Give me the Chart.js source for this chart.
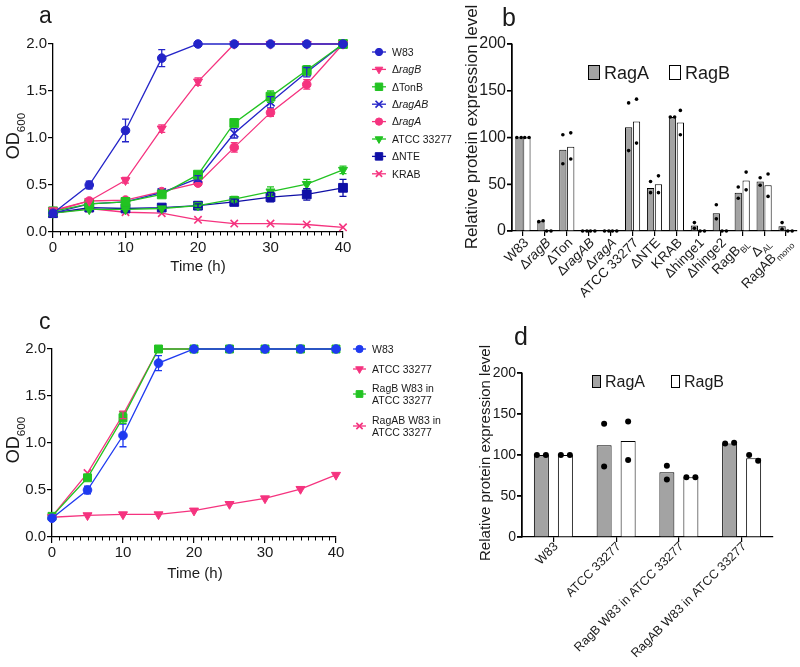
<!DOCTYPE html>
<html>
<head>
<meta charset="utf-8">
<script src="https://cdn.jsdelivr.net/npm/chart.js@4.4.1/dist/chart.umd.min.js"></script>
<style>
html, body { margin: 0; background: #fff; }
#wrap { position: relative; width: 800px; height: 667px; overflow: hidden; }
#wrap canvas { position: absolute; left: 0; top: 0; }
</style>
</head>
<body>
<div id="wrap">
  <canvas id="chartA" width="800" height="667"></canvas>
  <canvas id="chartB" width="800" height="667"></canvas>
  <canvas id="chartC" width="800" height="667"></canvas>
  <canvas id="chartD" width="800" height="667"></canvas>
</div>
<script>
const FONT = '"Liberation Sans", Arial, Helvetica, sans-serif';
const INK = "#1a1a1a";

/* ================= DATA ================= */
const hours = [0, 5, 10, 15, 20, 25, 30, 35, 40];

// panel a
const aNames = ["W83", "Δ*ragB*", "ΔTonB", "Δ*ragAB*", "Δ*ragA*", "ATCC 33277", "ΔNTE", "KRAB"];
const aW83 = [0.20, 0.50, 1.08, 1.85, 2.00, 2.00, 2.00, 2.00, 2.00];
const aRagB = [0.23, 0.33, 0.55, 1.10, 1.60, 2.00, 2.00, 2.00, 2.00];
const aTonB = [0.22, 0.30, 0.32, 0.40, 0.61, 1.16, 1.44, 1.72, 2.00];
const aRagAB = [0.20, 0.30, 0.32, 0.42, 0.57, 1.05, 1.38, 1.70, 2.00];
const aRagA = [0.22, 0.33, 0.34, 0.43, 0.52, 0.90, 1.27, 1.57, 2.00];
const aATCC = [0.20, 0.24, 0.24, 0.25, 0.28, 0.35, 0.43, 0.51, 0.66];
const aNTE = [0.20, 0.26, 0.25, 0.26, 0.28, 0.32, 0.37, 0.40, 0.47];
const aKRAB = [0.20, 0.25, 0.21, 0.20, 0.13, 0.09, 0.09, 0.08, 0.05];
const aW83Err = [0, 0.04, 0.12, 0.09, 0, 0, 0, 0, 0];
const aRagBErr = [0, 0, 0.03, 0.04, 0.04, 0, 0, 0, 0];
const aTonBErr = [0, 0, 0, 0, 0.03, 0.03, 0.06, 0.05, 0];
const aRagABErr = [0, 0, 0, 0, 0.03, 0.05, 0.06, 0.05, 0];
const aRagAErr = [0, 0, 0, 0, 0, 0.05, 0.04, 0.05, 0];
const aATCCErr = [0, 0, 0, 0, 0.03, 0.03, 0.05, 0.05, 0.04];
const aNTEErr = [0, 0, 0, 0, 0.02, 0.03, 0.05, 0.06, 0.09];
const aKRABErr = [0, 0, 0, 0, 0, 0, 0, 0, 0];

// panel c
const cNames = ["W83", "ATCC 33277", "RagB W83 in\nATCC 33277", "RagAB W83 in\nATCC 33277"];
const cW83 = [0.20, 0.50, 1.08, 1.85, 2.00, 2.00, 2.00, 2.00, 2.00];
const cATCC = [0.21, 0.23, 0.24, 0.24, 0.28, 0.35, 0.41, 0.51, 0.66];
const cRagB = [0.22, 0.63, 1.27, 2.00, 2.00, 2.00, 2.00, 2.00, 2.00];
const cRagAB = [0.22, 0.68, 1.30, 2.00, 2.00, 2.00, 2.00, 2.00, 2.00];
const cW83Err = [0, 0.04, 0.12, 0.08, 0, 0, 0, 0, 0];
const cATCCErr = [0, 0, 0, 0, 0, 0, 0, 0, 0];
const cRagBErr = [0, 0, 0.06, 0, 0, 0, 0, 0, 0];
const cRagABErr = [0, 0, 0.04, 0, 0, 0, 0, 0, 0];

// panel b
const bCats = ["W83", "Δ*ragB*", "ΔTon", "Δ*ragAB*", "Δ*ragA*", "ATCC 33277", "ΔNTE", "KRAB",
               "Δhinge1", "Δhinge2", "RagB_BL", "Δ_AL", "RagAB_mono"];
const bRagA = [100, 11, 87, 0, 0, 111, 46, 122, 6, 19, 41, 53, 5];
const bRagB = [100, 0, 90, 0, 0, 117, 50, 116, 0, 0, 54, 49, 0];
const bRagADots = [[100, 100], [10, 11], [103, 72], [0, 0], [0, 0], [137, 86], [53, 41], [122, 122],
                   [9, 3], [28, 13], [47, 35], [57, 49], [9, 2]];
const bRagBDots = [[100, 100], [0, 0], [105, 77], [0, 0], [0, 0], [141, 94], [59, 41], [129, 103],
                   [0, 0], [0, 0], [63, 44], [61, 37], [0, 0]];

// panel d
const dCats = ["W83", "ATCC 33277", "RagB W83 in ATCC 33277", "RagAB W83 in ATCC 33277"];
const dRagA = [100, 112, 79, 114];
const dRagB = [100, 117, 73, 96];
const dRagADots = [[100, 100], [138, 86], [87, 70], [114, 115]];
const dRagBDots = [[100, 100], [141, 94], [73, 73], [100, 93]];

/* ================= TEXT HELPERS ================= */
// "*x*" = italic, "_x" = subscript to the end
function parseRuns(str) {
    const runs = [];
    let italic = false, sub = false, buf = "";
    const push = () => { if (buf) runs.push({ t: buf, italic, sub }); buf = ""; };
    for (const ch of str) {
        if (ch === "*") { push(); italic = !italic; }
        else if (ch === "_") { push(); sub = true; }
        else buf += ch;
    }
    push();
    return runs;
}

function drawRuns(ctx, str, x, y, size, align, rot, subScale) {
    const runs = parseRuns(str);
    const ss = subScale || 0.65;
    const fontOf = r => (r.italic ? "italic " : "") + (r.sub ? size * ss : size) + "px " + FONT;
    let total = 0;
    runs.forEach(r => { ctx.font = fontOf(r); r.w = ctx.measureText(r.t).width; total += r.w; });
    ctx.save();
    ctx.translate(x, y);
    if (rot) ctx.rotate(rot);
    ctx.fillStyle = INK;
    ctx.textAlign = "left";
    ctx.textBaseline = "alphabetic";
    let cx = align === "right" ? -total : align === "center" ? -total / 2 : 0;
    const base = size * 0.36;
    runs.forEach(r => {
        ctx.font = fontOf(r);
        ctx.fillText(r.t, cx, base + (r.sub ? size * 0.28 : 0));
        cx += r.w;
    });
    ctx.restore();
}

/* ================= PLUGINS ================= */
const errorBars = {
    id: "errorBars",
    afterDatasetsDraw(chart) {
        const ctx = chart.ctx, ys = chart.scales.y;
        chart.data.datasets.forEach((ds, k) => {
            if (!ds.errors) return;
            const meta = chart.getDatasetMeta(k);
            ds.errors.forEach((e, i) => {
                if (!e) return;
                const pt = meta.data[i];
                const v = ds.data[i].y;
                const top = ys.getPixelForValue(v + e), bot = ys.getPixelForValue(v - e);
                ctx.save();
                ctx.strokeStyle = ds.borderColor;
                ctx.lineWidth = 1.3;
                ctx.beginPath();
                ctx.moveTo(pt.x, top); ctx.lineTo(pt.x, bot);
                ctx.moveTo(pt.x - 3.5, top); ctx.lineTo(pt.x + 3.5, top);
                ctx.moveTo(pt.x - 3.5, bot); ctx.lineTo(pt.x + 3.5, bot);
                ctx.stroke();
                ctx.restore();
            });
        });
    }
};

const minorTicks = {
    id: "minorTicks",
    afterDraw(chart, args, opts) {
        if (!opts.step) return;
        const xs = chart.scales.x, ctx = chart.ctx;
        ctx.save();
        ctx.strokeStyle = "#000";
        ctx.lineWidth = 1;
        ctx.beginPath();
        for (let v = xs.min; v <= xs.max; v += opts.step) {
            if (v % opts.major === 0) continue;
            const px = Math.round(xs.getPixelForValue(v)) + 0.5;
            ctx.moveTo(px, xs.top);
            ctx.lineTo(px, xs.top + opts.len);
        }
        ctx.stroke();
        ctx.restore();
    }
};

// left value axis line + tick marks, drawn from the y scale
const valueAxis = {
    id: "valueAxis",
    afterDraw(chart, args, opts) {
        if (!opts.len) return;
        const ys = chart.scales.y, ctx = chart.ctx;
        const x0 = chart.chartArea.left;
        ctx.save();
        ctx.strokeStyle = "#000";
        ctx.lineWidth = 1.3;
        ctx.beginPath();
        ctx.moveTo(x0, ys.getPixelForValue(ys.max));
        ctx.lineTo(x0, ys.getPixelForValue(ys.min) + 0.6);
        ys.ticks.forEach(t => {
            const py = ys.getPixelForValue(t.value);
            ctx.moveTo(x0 - opts.len, py);
            ctx.lineTo(x0, py);
        });
        ctx.stroke();
        ctx.restore();
    }
};

const sideLegend = {
    id: "sideLegend",
    afterDraw(chart, args, opts) {
        if (!opts.ys) return;
        const ctx = chart.ctx;
        chart.data.datasets.forEach((ds, k) => {
            const y = opts.ys[k];
            ctx.save();
            ctx.strokeStyle = ds.borderColor;
            ctx.fillStyle = ds.borderColor;
            ctx.lineWidth = 1.3;
            ctx.beginPath();
            ctx.moveTo(opts.x, y); ctx.lineTo(opts.x + opts.len, y);
            ctx.stroke();
            ctx.lineWidth = ds.pointStyle === "crossRot" ? 1.6 : 1;
            Chart.helpers.drawPoint(ctx, {
                pointStyle: ds.pointStyle,
                rotation: ds.pointRotation,
                radius: ds.pointRadius * 0.85,
                borderWidth: 1
            }, opts.x + opts.len / 2, y);
            ctx.restore();
            const lines = ds.label.split("\n");
            lines.forEach((ln, j) => {
                const ly = y + (j - (lines.length - 1) / 2) * opts.lineGap;
                drawRuns(ctx, ln, opts.x + opts.len + 6, ly, opts.size, "left");
            });
        });
    }
};

const texts = {
    id: "texts",
    afterDraw(chart, args, opts) {
        (opts.items || []).forEach(t => {
            drawRuns(chart.ctx, t.s, t.x, t.y, t.size, t.align || "left", t.rot || 0, t.sub);
        });
    }
};

const catLabels = {
    id: "catLabels",
    afterDraw(chart, args, opts) {
        if (!opts.labels) return;
        const xs = chart.scales.x;
        opts.labels.forEach((lab, i) => {
            const px = xs.getPixelForValue(i);
            drawRuns(chart.ctx, lab, px + opts.dx, xs.top + opts.dy, opts.size, "right", -Math.PI / 4);
        });
    }
};

const barDots = {
    id: "barDots",
    afterDatasetsDraw(chart, args, opts) {
        const ctx = chart.ctx, ys = chart.scales.y;
        chart.data.datasets.forEach((ds, k) => {
            if (!ds.dots) return;
            const meta = chart.getDatasetMeta(k);
            ds.dots.forEach((pair, i) => {
                const bar = meta.data[i];
                const p0 = ys.getPixelForValue(pair[0]);
                const p1 = ys.getPixelForValue(pair[1]);
                const close = Math.abs(p0 - p1) < opts.r * 2.5;
                const off = close ? bar.width * 0.3 : 0;
                ctx.save();
                ctx.fillStyle = "#000";
                [[p0, -off], [p1, off]].forEach(([py, dx]) => {
                    ctx.beginPath();
                    ctx.arc(bar.x + dx, py, opts.r, 0, Math.PI * 2);
                    ctx.fill();
                });
                ctx.restore();
            });
        });
    }
};

const barLegend = {
    id: "barLegend",
    afterDraw(chart, args, opts) {
        if (!opts.items) return;
        const ctx = chart.ctx;
        opts.items.forEach((it, k) => {
            const ds = chart.data.datasets[k];
            ctx.save();
            ctx.fillStyle = ds.backgroundColor;
            ctx.strokeStyle = "#000";
            ctx.lineWidth = 1;
            ctx.fillRect(it.x, it.y, opts.w, opts.h);
            ctx.strokeRect(it.x + 0.5, it.y + 0.5, opts.w - 1, opts.h - 1);
            ctx.restore();
            drawRuns(ctx, ds.label, it.x + opts.w + 4, it.y + opts.h / 2, opts.size, "left");
        });
    }
};

/* ================= BUILDERS ================= */
function padFor(area, xh) {
    return { left: 0, top: area.top, right: 800 - area.right, bottom: 667 - area.bottom - xh };
}

function axisStyle(tickLen) {
    return {
        grid: { display: true, drawOnChartArea: false, drawTicks: true, color: "#000", lineWidth: 1.2, tickLength: tickLen },
        border: { display: true, color: "#000", width: 1.3 }
    };
}

function lineSets(names, values, errors, styles) {
    return names.map((n, k) => ({
        label: n,
        data: hours.map((h, i) => ({ x: h, y: values[k][i] })),
        errors: errors[k],
        borderColor: styles[k].color,
        backgroundColor: styles[k].color,
        pointBackgroundColor: styles[k].color,
        pointBorderColor: styles[k].color,
        pointStyle: styles[k].shape,
        pointRotation: styles[k].rot || 0,
        pointRadius: styles[k].r,
        pointBorderWidth: styles[k].shape === "crossRot" ? 1.6 : 1,
        borderWidth: 1.3,
        tension: 0,
        clip: false
    }));
}

function lineChart(id, area, datasets, plugOpts) {
    const xh = 30;
    return new Chart(document.getElementById(id), {
        type: "line",
        data: { datasets },
        options: {
            responsive: false,
            animation: false,
            events: [],
            devicePixelRatio: 1,
            layout: { padding: padFor(area, xh) },
            scales: {
                x: {
                    type: "linear", min: 0, max: 40,
                    afterFit: s => { s.height = xh; },
                    ticks: { stepSize: 10, maxRotation: 0, padding: 1, color: INK, font: { family: FONT, size: 15 } },
                    ...axisStyle(6)
                },
                y: {
                    type: "linear", min: 0, max: 2,
                    afterFit: s => { s.width = area.left; },
                    ticks: { stepSize: 0.5, padding: 1, color: INK, font: { family: FONT, size: 15 },
                             callback: v => v.toFixed(1) },
                    ...axisStyle(5)
                }
            },
            plugins: Object.assign({
                legend: { display: false },
                tooltip: { enabled: false },
                minorTicks: { step: 1, major: 10, len: 3.5 }
            }, plugOpts)
        },
        plugins: [errorBars, minorTicks, sideLegend, texts]
    });
}

function barChart(id, area, cats, a, b, aDots, bDots, cfg) {
    const xh = 20;
    return new Chart(document.getElementById(id), {
        type: "bar",
        data: {
            labels: cats,
            datasets: [
                { label: "RagA", data: a, dots: aDots, backgroundColor: "#a3a3a3", borderColor: "#000",
                  borderWidth: 1, categoryPercentage: cfg.cp, barPercentage: cfg.bp },
                { label: "RagB", data: b, dots: bDots, backgroundColor: "#ffffff", borderColor: "#000",
                  borderWidth: 1, categoryPercentage: cfg.cp, barPercentage: cfg.bp }
            ]
        },
        options: {
            responsive: false,
            animation: false,
            events: [],
            devicePixelRatio: 1,
            layout: { padding: padFor(area, xh) },
            scales: {
                x: {
                    type: "category", offset: true,
                    afterFit: s => { s.height = xh; },
                    ticks: { display: false },
                    grid: { drawOnChartArea: false, offset: false, color: "#000", lineWidth: 1.2, tickLength: 5 },
                    border: { color: "#000", width: 1.3 }
                },
                y: {
                    type: "linear", position: "left", display: true,
                    min: 0, max: 200,
                    afterFit: s => { s.width = area.left; },
                    ticks: { stepSize: 50, padding: 1, color: INK, font: { family: FONT, size: cfg.tickSize } },
                    ...axisStyle(5)
                }
            },
            plugins: Object.assign({
                legend: { display: false },
                tooltip: { enabled: false },
                valueAxis: { len: 5 }
            }, cfg.plugins)
        },
        plugins: [barDots, catLabels, barLegend, valueAxis, texts]
    });
}

/* ================= PANEL A ================= */
const BLUE = "#2424c8", NAVY = "#0f0fa6", PINK = "#f5337f", GREEN = "#22c322";

lineChart("chartA", { left: 53, top: 44, right: 343, bottom: 232 },
    lineSets(aNames,
        [aW83, aRagB, aTonB, aRagAB, aRagA, aATCC, aNTE, aKRAB],
        [aW83Err, aRagBErr, aTonBErr, aRagABErr, aRagAErr, aATCCErr, aNTEErr, aKRABErr],
        [
            { color: BLUE, shape: "circle", r: 4.3 },
            { color: PINK, shape: "triangle", rot: 180, r: 5.2 },
            { color: GREEN, shape: "rect", r: 6.2 },
            { color: BLUE, shape: "crossRot", r: 5.8 },
            { color: PINK, shape: "circle", r: 4.3 },
            { color: GREEN, shape: "triangle", rot: 180, r: 5.2 },
            { color: NAVY, shape: "rect", r: 6.2 },
            { color: PINK, shape: "crossRot", r: 5.2 }
        ]),
    {
        sideLegend: { x: 372, len: 14, size: 10.5, lineGap: 12,
                      ys: [52, 69.4, 86.8, 104.2, 121.6, 139, 156.4, 173.8] },
        texts: { items: [
            { s: "a", x: 39, y: 15, size: 23 },
            { s: "Time (h)", x: 198, y: 266, size: 15, align: "center" },
            { s: "OD_600", x: 13, y: 136, size: 18, align: "center", rot: -Math.PI / 2 }
        ] }
    });

/* ================= PANEL C ================= */
const CBLUE = "#1f3af0";

lineChart("chartC", { left: 52, top: 349, right: 336, bottom: 537 },
    lineSets(cNames,
        [cW83, cATCC, cRagB, cRagAB],
        [cW83Err, cATCCErr, cRagBErr, cRagABErr],
        [
            { color: CBLUE, shape: "circle", r: 4.3 },
            { color: PINK, shape: "triangle", rot: 180, r: 5.2 },
            { color: GREEN, shape: "rect", r: 5.6 },
            { color: PINK, shape: "crossRot", r: 5.2 }
        ]),
    {
        sideLegend: { x: 353, len: 13, size: 10.5, lineGap: 12.5, ys: [349, 369, 394, 426] },
        texts: { items: [
            { s: "c", x: 39, y: 321, size: 23 },
            { s: "Time (h)", x: 195, y: 573, size: 15, align: "center" },
            { s: "OD_600", x: 13, y: 440, size: 18, align: "center", rot: -Math.PI / 2 }
        ] }
    });

/* ================= PANEL B ================= */
barChart("chartB", { left: 512, top: 44, right: 797, bottom: 231 },
    bCats, bRagA, bRagB, bRagADots, bRagBDots,
    {
        cp: 0.72, bp: 0.92, tickSize: 16,
        plugins: {
            barDots: { r: 1.8 },
            catLabels: { labels: bCats, size: 13.5, dx: 3, dy: 9 },
            barLegend: { w: 12, h: 15, size: 18, items: [{ x: 588, y: 65 }, { x: 669, y: 65 }] },
            texts: { items: [
                { s: "b", x: 502, y: 17, size: 25 },
                { s: "Relative protein expression level", x: 471, y: 127, size: 17, align: "center", rot: -Math.PI / 2 }
            ] }
        }
    });

/* ================= PANEL D ================= */
barChart("chartD", { left: 522, top: 373, right: 773, bottom: 537 },
    dCats, dRagA, dRagB, dRagADots, dRagBDots,
    {
        cp: 0.765, bp: 0.625, tickSize: 14,
        plugins: {
            barDots: { r: 3 },
            catLabels: { labels: dCats, size: 12.5, dx: 2, dy: 7 },
            barLegend: { w: 9, h: 13, size: 16, items: [{ x: 592, y: 375 }, { x: 671, y: 375 }] },
            texts: { items: [
                { s: "d", x: 514, y: 336, size: 25 },
                { s: "Relative protein expression level", x: 485, y: 453, size: 15, align: "center", rot: -Math.PI / 2 }
            ] }
        }
    });
</script>
</body>
</html>
